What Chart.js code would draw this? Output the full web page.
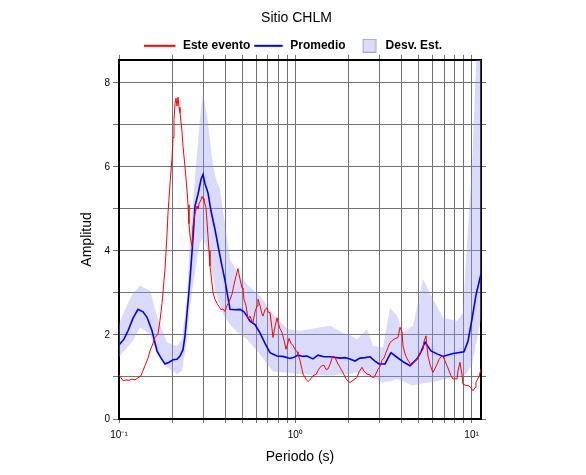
<!DOCTYPE html>
<html>
<head>
<meta charset="utf-8">
<title>Sitio CHLM</title>
<script src="https://cdn.jsdelivr.net/npm/chart.js@4.4.1/dist/chart.umd.min.js"></script>
<style>
  html, body { margin: 0; padding: 0; background: #ffffff; }
  #wrap { width: 586px; height: 475px; }
</style>
</head>
<body>
<div id="wrap"><canvas id="chart" width="586" height="475"></canvas></div>
<script>
/* ── datos ── */
var seriesNames = ['Este evento', 'Promedio', 'Desv. Est.'];

/* Este evento (rojo) */
var eventPeriod = [
  0.1000, 0.1027, 0.1054, 0.1096, 0.1140, 0.1185, 0.1232, 0.1282, 0.1333, 0.1368,
  0.1404, 0.1461, 0.1499, 0.1559, 0.1600, 0.1664, 0.1708, 0.1754, 0.1800, 0.1824,
  0.1872, 0.1897, 0.1947, 0.1998, 0.2025, 0.2051, 0.2078, 0.2105, 0.2133, 0.2161,
  0.2190, 0.2218, 0.2277, 0.2307, 0.2368, 0.2431, 0.2463, 0.2495, 0.2528, 0.2595,
  0.2629, 0.2698, 0.2770, 0.2806, 0.2843, 0.2918, 0.2957, 0.2996, 0.3035, 0.3115,
  0.3156, 0.3198, 0.3240, 0.3282, 0.3326, 0.3414, 0.3504, 0.3597, 0.3692, 0.3790,
  0.3890, 0.3993, 0.4099, 0.4207, 0.4375, 0.4491, 0.4610, 0.4732, 0.4857, 0.4986,
  0.5051, 0.5118, 0.5253, 0.5392, 0.5535, 0.5681, 0.5756, 0.5908, 0.6065, 0.6144,
  0.6307, 0.6474, 0.6559, 0.6733, 0.6911, 0.7002, 0.7187, 0.7377, 0.7474, 0.7672,
  0.7875, 0.7979, 0.8190, 0.8407, 0.8629, 0.8858, 0.9092, 0.9212, 0.9455, 0.9706,
  0.9962, 1.023, 1.036, 1.063, 1.092, 1.106, 1.150, 1.181, 1.228, 1.260,
  1.311, 1.345, 1.381, 1.418, 1.455, 1.494, 1.533, 1.574, 1.615, 1.637,
  1.680, 1.724, 1.747, 1.793, 1.865, 1.939, 1.991, 2.043, 2.125, 2.239,
  2.298, 2.390, 2.453, 2.551, 2.653, 2.724, 2.796, 2.870, 2.946, 3.024,
  3.104, 3.186, 3.270, 3.357, 3.446, 3.537, 3.630, 3.726, 3.825, 3.926,
  4.030, 4.083, 4.191, 4.302, 4.416, 4.533, 4.653, 4.776, 4.902, 5.032,
  5.165, 5.302, 5.372, 5.514, 5.586, 5.660, 5.810, 5.964, 6.042, 6.202,
  6.366, 6.535, 6.707, 6.885, 7.067, 7.254, 7.446, 7.643, 7.846, 8.053,
  8.266, 8.375, 8.597, 8.824, 8.940, 9.298, 9.669, 9.925, 10.19, 10.46,
  10.59, 10.88, 11.02, 11.31
];
var eventAmp = [
  1.05, 0.98, 0.91, 0.93, 0.92, 0.95, 0.93, 0.98, 1.03, 1.15,
  1.27, 1.45, 1.62, 1.80, 1.94, 2.02, 2.35, 2.75, 3.30, 3.56,
  4.40, 4.91, 5.60, 6.20, 6.70, 7.13, 7.50, 7.64, 7.45, 7.66,
  7.42, 7.29, 6.85, 6.49, 6.00, 5.45, 5.10, 4.65, 4.35, 4.12,
  4.60, 4.90, 5.07, 5.00, 5.12, 5.22, 5.30, 5.25, 5.20, 5.03,
  4.70, 4.35, 4.00, 3.64, 3.45, 3.01, 2.85, 2.75, 2.68, 2.60,
  2.62, 2.56, 2.70, 2.78, 2.97, 3.20, 3.40, 3.58, 3.33, 3.12,
  3.09, 2.85, 2.70, 2.38, 2.45, 2.32, 2.30, 2.55, 2.69, 2.85,
  2.70, 2.50, 2.45, 2.60, 2.65, 2.55, 2.53, 2.15, 1.94, 2.20,
  2.41, 2.30, 2.15, 2.06, 1.88, 1.66, 1.82, 1.92, 1.80, 1.75,
  1.66, 1.60, 1.54, 1.40, 1.18, 1.07, 0.95, 0.89, 0.96, 1.03,
  1.06, 1.15, 1.23, 1.27, 1.28, 1.18, 1.19, 1.30, 1.44, 1.50,
  1.47, 1.36, 1.31, 1.23, 1.10, 0.96, 0.90, 0.87, 0.92, 0.99,
  1.12, 1.23, 1.14, 1.07, 1.05, 1.00, 0.99, 1.08, 1.18, 1.25,
  1.40, 1.45, 1.58, 1.70, 1.82, 1.86, 1.90, 1.92, 1.94, 2.18,
  2.08, 1.74, 1.55, 1.44, 1.36, 1.28, 1.32, 1.38, 1.43, 1.52,
  1.60, 1.66, 1.85, 1.98, 1.72, 1.50, 1.30, 1.16, 1.11, 1.20,
  1.30, 1.42, 1.48, 1.50, 1.38, 1.27, 1.15, 1.03, 0.95, 0.96,
  0.95, 1.15, 1.35, 1.05, 0.83, 0.80, 0.79, 0.74, 0.67, 0.75,
  0.87, 0.97, 1.00, 1.20
];

/* Promedio (azul) */
var meanPeriod = [
  0.1000, 0.1067, 0.1125, 0.1201, 0.1282, 0.1368, 0.1442, 0.1539, 0.1643, 0.1731,
  0.1824, 0.1922, 0.2024, 0.2133, 0.2218, 0.2307, 0.2368, 0.2463, 0.2528, 0.2629,
  0.2698, 0.2806, 0.2918, 0.2996, 0.3075, 0.3198, 0.3326, 0.3504, 0.3692, 0.3840,
  0.3993, 0.4262, 0.4551, 0.4857, 0.5118, 0.5321, 0.5535, 0.5908, 0.6307, 0.6733,
  0.7187, 0.7875, 0.8515, 0.9330, 0.9831, 1.036, 1.106, 1.165, 1.260, 1.345,
  1.455, 1.574, 1.793, 1.914, 2.043, 2.181, 2.328, 2.485, 2.653, 2.832,
  2.984, 3.227, 3.357, 3.490, 3.775, 4.135, 4.473, 4.902, 5.165, 5.441,
  5.886, 6.366, 6.885, 7.846, 9.055, 9.540, 10.06, 10.59, 11.31
];
var meanAmp = [
  1.76, 1.90, 2.10, 2.40, 2.61, 2.55, 2.42, 2.10, 1.62, 1.45,
  1.31, 1.35, 1.41, 1.42, 1.50, 1.65, 1.98, 2.78, 3.33, 4.30,
  5.07, 5.35, 5.70, 5.82, 5.60, 5.38, 4.95, 4.51, 4.00, 3.64,
  3.30, 2.61, 2.60, 2.61, 2.55, 2.45, 2.33, 2.25, 2.05, 1.80,
  1.58, 1.50, 1.49, 1.44, 1.47, 1.52, 1.49, 1.50, 1.43, 1.52,
  1.48, 1.48, 1.45, 1.46, 1.43, 1.38, 1.45, 1.46, 1.48, 1.38,
  1.31, 1.31, 1.45, 1.58, 1.47, 1.35, 1.27, 1.43, 1.60, 1.83,
  1.62, 1.55, 1.49, 1.56, 1.60, 1.85, 2.38, 2.95, 3.45
];

/* Desv. Est. (banda) */
var bandPeriod = [
  0.1000, 0.1081, 0.1201, 0.1316, 0.1499, 0.1643, 0.1872, 0.2133, 0.2277, 0.2431,
  0.2495, 0.2629, 0.2770, 0.2881, 0.2996, 0.3198, 0.3369, 0.3550, 0.3740, 0.3941,
  0.4262, 0.4670, 0.5322, 0.6307, 0.7474, 0.8974, 1.063, 1.260, 1.574, 1.865,
  2.043, 2.239, 2.551, 2.759, 3.144, 3.446, 3.775, 4.083, 4.653, 5.302,
  6.042, 6.885, 8.266, 8.940, 9.420, 10.06, 10.73, 11.31
];
var bandHigh = [
  2.26, 2.60, 3.00, 3.17, 3.05, 2.45, 1.82, 1.74, 1.90, 2.90,
  3.90, 5.20, 6.30, 7.15, 7.76, 7.05, 6.20, 5.70, 5.46, 4.80,
  3.80, 3.50, 3.20, 2.93, 2.50, 2.15, 2.10, 2.15, 2.22, 2.05,
  2.00, 1.90, 2.14, 1.74, 1.70, 2.65, 2.45, 2.06, 2.22, 3.33,
  2.85, 2.41, 2.33, 2.53, 4.20, 6.00, 9.00, 9.50
];
var bandLow = [
  1.47, 1.65, 1.86, 2.18, 2.02, 1.54, 1.23, 1.07, 1.15, 1.90,
  2.50, 3.20, 3.80, 4.20, 4.30, 4.00, 3.50, 3.00, 2.70, 2.45,
  2.25, 2.07, 1.90, 1.54, 1.13, 1.10, 1.07, 1.05, 1.03, 1.07,
  1.08, 1.11, 1.05, 0.98, 0.87, 0.90, 0.95, 0.90, 0.80, 0.85,
  0.88, 0.94, 0.99, 1.02, 1.10, 1.30, 1.90, 2.40
];

/* ejes */
var xTickValues = [0.1, 0.2, 0.3, 0.4, 0.5, 0.6, 0.7, 0.8, 0.9,
                   1, 2, 3, 4, 5, 6, 7, 8, 9, 10];
var xTickLabels = { '0.1': '10\u207B\u00B9', '1': '10\u2070', '10': '10\u00B9' };
var yTickValues = [0, 1, 2, 3, 4, 5, 6, 7, 8];
var xMin = 0.1, xMax = 11.31;
var yMin = 0, yMax = 8.55;

/* ── helpers ── */
function pairs(xs, ys) {
  return xs.map(function (x, i) { return { x: x, y: ys[i] }; });
}

/* muestras de la leyenda dibujadas en canvas pequeños */
function legendLine(color, width, from) {
  var c = document.createElement('canvas');
  c.width = 40; c.height = 4;
  var g = c.getContext('2d');
  g.strokeStyle = color;
  g.lineWidth = width;
  g.beginPath();
  g.moveTo(from, 2);
  g.lineTo(31.5, 2);
  g.stroke();
  return c;
}
function legendBox() {
  var c = document.createElement('canvas');
  c.width = 20; c.height = 14;
  var g = c.getContext('2d');
  g.fillStyle = '#dcdcfa';
  g.fillRect(6.5, 0.5, 12.5, 13);
  g.strokeStyle = '#a4a4c4';
  g.lineWidth = 1;
  g.strokeRect(6.5, 0.5, 12.5, 13);
  return c;
}
var legendMarks = [legendLine('#ff0000', 2, 0), legendLine('#0000ff', 2, 3), legendBox()];

function setTicks(values) {
  return function (scale) {
    scale.ticks = values.map(function (v) { return { value: v }; });
  };
}

var GRID = '#727272';
Chart.defaults.font.family = '"Liberation Sans", Arial, Helvetica, sans-serif';
Chart.defaults.color = '#000000';

new Chart(document.getElementById('chart'), {
  type: 'line',
  data: {
    datasets: [
      {
        label: seriesNames[0],
        data: pairs(eventPeriod, eventAmp),
        borderColor: '#ff0000',
        borderWidth: 1,
        pointRadius: 0,
        fill: false,
        order: 1
      },
      {
        label: seriesNames[1],
        data: pairs(meanPeriod, meanAmp),
        borderColor: '#0000ff',
        borderWidth: 1.6,
        pointRadius: 0,
        fill: false,
        order: 2
      },
      {
        label: seriesNames[2],
        data: pairs(bandPeriod, bandHigh),
        borderColor: 'rgba(0,0,0,0)',
        borderWidth: 0,
        backgroundColor: 'rgba(150,150,240,0.35)',
        pointRadius: 0,
        fill: '+1',
        order: 3
      },
      {
        label: 'banda inferior',
        data: pairs(bandPeriod, bandLow),
        borderColor: 'rgba(0,0,0,0)',
        borderWidth: 0,
        pointRadius: 0,
        fill: false,
        order: 3
      }
    ]
  },
  options: {
    responsive: false,
    animation: false,
    events: [],
    layout: { padding: { left: 7, right: 0, top: 0, bottom: 0 } },
    plugins: {
      tooltip: { enabled: false },
      title: {
        display: true,
        text: 'Sitio CHLM',
        color: '#000000',
        font: { size: 14, weight: 'normal' },
        padding: { top: 10, bottom: 5 }
      },
      legend: {
        display: true,
        maxHeight: 28,
        labels: {
          usePointStyle: true,
          pointStyleWidth: 26,
          boxHeight: 12,
          padding: 8,
          color: '#000000',
          font: { size: 12, weight: 'bold' },
          generateLabels: function (chart) {
            var items = Chart.defaults.plugins.legend.labels.generateLabels(chart);
            return items.filter(function (it) { return it.datasetIndex < 3; })
              .map(function (it) {
                it.pointStyle = legendMarks[it.datasetIndex];
                return it;
              });
          }
        }
      }
    },
    scales: {
      x: {
        type: 'logarithmic',
        position: 'bottom',
        min: xMin,
        max: xMax,
        afterBuildTicks: setTicks(xTickValues),
        afterFit: function (s) { s.height = 56; },
        grid: { color: GRID, lineWidth: 1, tickLength: 4 },
        border: { color: '#000000', width: 2 },
        ticks: {
          autoSkip: false,
          maxRotation: 0,
          padding: 6,
          font: { size: 10 },
          callback: function (v) { return xTickLabels[String(v)] || ''; }
        },
        title: {
          display: true,
          text: 'Periodo (s)',
          font: { size: 14 },
          padding: { top: 0, bottom: 9 }
        }
      },
      x2: {
        type: 'logarithmic',
        position: 'top',
        min: xMin,
        max: xMax,
        afterBuildTicks: setTicks(xTickValues),
        afterFit: function (s) { s.height = 0; },
        grid: { drawOnChartArea: false, color: GRID, tickLength: 5 },
        border: { color: '#000000', width: 2 },
        ticks: { display: false, autoSkip: false }
      },
      y: {
        position: 'left',
        min: yMin,
        max: yMax,
        afterBuildTicks: setTicks(yTickValues),
        afterFit: function (s) { s.width = 112; },
        grid: { color: GRID, lineWidth: 1, tickLength: 6 },
        border: { color: '#000000', width: 2 },
        ticks: {
          autoSkip: false,
          padding: 3,
          font: { size: 10 },
          callback: function (v) { return v % 2 === 0 ? String(v) : ''; }
        },
        title: {
          display: true,
          text: 'Amplitud',
          font: { size: 14 },
          padding: { top: 71.6, bottom: 0 }
        }
      },
      y2: {
        position: 'right',
        min: yMin,
        max: yMax,
        afterBuildTicks: setTicks(yTickValues),
        afterFit: function (s) { s.width = 105; },
        grid: { drawOnChartArea: false, color: GRID, tickLength: 5 },
        border: { color: '#000000', width: 2 },
        ticks: { display: false, autoSkip: false }
      }
    }
  }
});
</script>
</body>
</html>
